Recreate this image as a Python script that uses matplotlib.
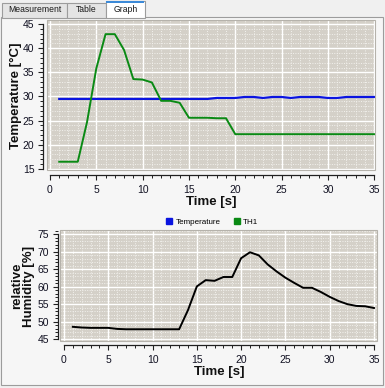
"""
Graph tab: temperature and humidity over time
"""
import matplotlib
matplotlib.use('Agg')
import matplotlib.pyplot as plt
from matplotlib.patches import Rectangle
from matplotlib.lines import Line2D
from matplotlib.ticker import MultipleLocator

# --- data ---
time_s = list(range(1, 36))
temperature = [29.5] * 17 + [29.7, 29.7, 29.7, 29.9, 29.9, 29.7, 29.9, 29.9,
                             29.7, 29.9, 29.9, 29.9, 29.7, 29.7, 29.9, 29.9,
                             29.9, 29.9]
th1 = [16.5, 16.5, 16.5, 24.7, 35.8, 42.9, 42.9, 39.6, 33.6, 33.5,
       32.9, 29.1, 29.1, 28.7, 25.6, 25.6, 25.6, 25.5, 25.5, 22.2] + [22.2] * 15
humidity = [48.5, 48.3, 48.2, 48.2, 48.2, 47.9, 47.8, 47.8, 47.8, 47.8,
            47.8, 47.8, 47.8, 53.3, 60.1, 61.9, 61.7, 62.8, 62.8, 68.2,
            69.9, 69.0, 66.4, 64.4, 62.6, 61.1, 59.7, 59.7, 58.5, 57.1,
            55.9, 55.0, 54.5, 54.4, 53.9]

tab_names = ['Measurement', 'Table', 'Graph']

W, H = 385, 388
FONT = 'Liberation Sans'
CANVAS = '#d4d0c8'


def px_box(x0, y0, x1, y1):
    """pixel box (top-left origin) -> figure fraction [l, b, w, h]"""
    return [x0 / W, 1 - y1 / H, (x1 - x0) / W, (y1 - y0) / H]


def fig_rect(x0, y0, x1, y1, **kw):
    l, b, w, h = px_box(x0, y0, x1, y1)
    fig.patches.append(Rectangle((l, b), w, h, transform=fig.transFigure, **kw))


def style_axes(ax, xlim, ylim, ybounds, off_left, off_bottom):
    ax.set_facecolor(CANVAS)
    ax.set_xlim(*xlim)
    ax.set_ylim(*ylim)
    ax.spines['top'].set_visible(False)
    ax.spines['right'].set_visible(False)
    ax.spines['left'].set_position(('outward', off_left * 0.72))
    ax.spines['bottom'].set_position(('outward', off_bottom * 0.72))
    ax.spines['left'].set_bounds(*ybounds)
    ax.spines['bottom'].set_bounds(0, 35)
    for s in ('left', 'bottom'):
        ax.spines[s].set_color('#202020')
        ax.spines[s].set_linewidth(0.9)
    ax.xaxis.set_major_locator(MultipleLocator(5))
    ax.xaxis.set_minor_locator(MultipleLocator(1))
    ax.yaxis.set_major_locator(MultipleLocator(5))
    ax.yaxis.set_minor_locator(MultipleLocator(1))
    ax.grid(which='minor', color='#f2f1ed', linewidth=0.7,
            linestyle=(0, (1, 1.5)))
    ax.grid(which='major', color='white', linewidth=1.0)
    ax.set_axisbelow(True)
    ax.tick_params(which='major', length=3.6, width=0.8, color='#202020',
                   labelsize=7.5, labelcolor='#111122', pad=2.5)
    ax.tick_params(axis='x', which='major', pad=3.8)
    ax.tick_params(which='minor', length=2.0, width=0.7, color='#202020')
    for lab in ax.get_xticklabels() + ax.get_yticklabels():
        lab.set_fontfamily(FONT)
    # thin frame around the canvas
    ax.add_patch(Rectangle((0, 0), 1, 1, transform=ax.transAxes, fill=False,
                           edgecolor='#b5b2ab', linewidth=0.8, zorder=5,
                           clip_on=False))


fig = plt.figure(figsize=(W / 100, H / 100), dpi=100)
fig.patch.set_facecolor('#f0f0f0')

# tab widget pane and tabs (kept below the axes)
fig_rect(1, 17, 383, 385, facecolor='#f6f6f6', edgecolor='#9c9c9c',
         linewidth=0.8, zorder=-3)
tab_x = [(2, 67), (67, 106), (106, 145)]
for name, (x0, x1) in zip(tab_names, tab_x):
    selected = name == 'Graph'
    top = 1 if selected else 3
    fig_rect(x0, top, x1, 17.5, facecolor='white' if selected else '#e4e4e4',
             edgecolor='#9c9c9c', linewidth=0.8, zorder=-2)
    if selected:
        fig_rect(x0 + 0.5, top, x1 - 0.5, top + 1.6, facecolor='#3c8ad8',
                 edgecolor='none', zorder=-1)
    fig.text((x0 + x1) / 2 / W, 1 - (top + 17) / 2 / H, name, fontsize=6.2,
             family=FONT, color='#1a1a1a', ha='center', va='center')

# top plot: temperatures
ax1 = fig.add_axes(px_box(47, 20, 375, 170))
style_axes(ax1, (-0.32, 35.08), (14.79, 45.83), (15, 45), 4, 5)
ax1.plot(time_s, temperature, color='#0a14e0', linewidth=1.6, zorder=3)
ax1.plot(time_s, th1, color='#0a8a14', linewidth=1.4, zorder=3)

# bottom plot: humidity
ax2 = fig.add_axes(px_box(60, 230, 377, 341))
style_axes(ax2, (-0.45, 35.34), (44.43, 76.29), (45, 75), 2.5, 4)
ax2.plot(time_s, humidity, color='black', linewidth=1.4, zorder=3)

# axis titles
lbl = dict(family=FONT, fontweight='bold', fontsize=9.5, color='#111111',
           ha='center', va='center')
fig.text(211 / W, 1 - 202 / H, 'Time [s]', **lbl)
fig.text(219 / W, 1 - 372 / H, 'Time [s]', **lbl)
fig.text(15.5 / W, 1 - 96 / H, 'Temperature [°C]', rotation=90, **lbl)
fig.text(23 / W, 1 - 286 / H, 'relative\nHumidity [%]', rotation=90,
         multialignment='center', linespacing=1.0, **lbl)

# legend between the plots
handles = [
    Line2D([], [], marker='s', linestyle='', color='#0a14e0', markersize=4.5),
    Line2D([], [], marker='s', linestyle='', color='#0a8a14', markersize=4.5),
]
fig.legend(handles, ['Temperature', 'TH1'], loc='center',
           bbox_to_anchor=(212 / W, 1 - 222 / H), ncol=2, frameon=False,
           prop={'family': FONT, 'size': 5.8}, handlelength=0.8,
           handletextpad=0.4, columnspacing=1.6, borderpad=0)

plt.savefig('out.png', dpi=100, facecolor=fig.get_facecolor())
plt.close()
